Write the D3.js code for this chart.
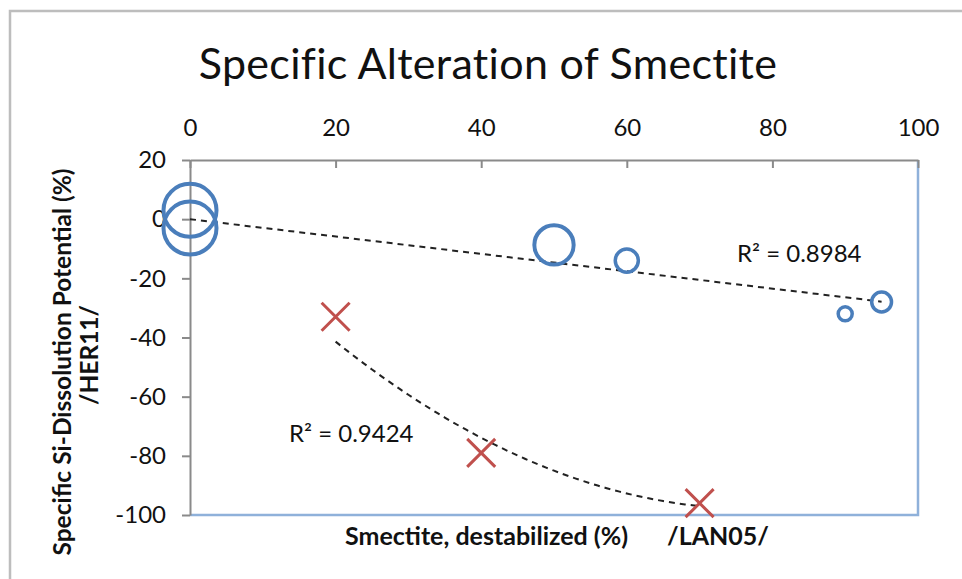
<!DOCTYPE html>
<html>
<head>
<meta charset="utf-8">
<script src="https://cdn.jsdelivr.net/npm/d3@7"></script>
<style>
	body { margin: 0; background: #fff; }
	text { font-family: Lato, "Open Sans", sans-serif; fill: #111; }
</style>
</head>
<body>
<script>
// values
let herX = 	[0, 0, 50, 60, 90, 95]
let herY = 	[3, -3, -8.7, -14, -32, -28]
let herSize = 	[100, 100, 55, 19, 7, 14]

let lanX = 	[20, 40, 70]
let lanY = 	[-33, -79, -96]

let xTicks = 	[0, 20, 40, 60, 80, 100]
let yTicks = 	[-100, -80, -60, -40, -20, 0, 20]

// second series trendline (2nd order), coefficients c0, c1, c2
let lanTrend = 	[4.78, -2.651, 0.0171]
let r2Labels = 	['R² = 0.8984', 'R² = 0.9424']

let W = 962, H = 579
let x0 = 190, x1 = 918
let y0 = 160, y1 = 515

let svg = d3.select('body').append('svg')
	.attr('width', W).attr('height', H)

// chart frame
svg.append('rect')
	.attr('x', 10).attr('y', 11)
	.attr('width', W).attr('height', H)
	.attr('fill', 'none').style('stroke', '#bdbdbd').attr('stroke-width', 2.5)

let x = d3.scaleLinear().domain([0, 100]).range([x0, x1])
let y = d3.scaleLinear().domain([-100, 20]).range([y1, y0])
let r = d3.scaleSqrt().domain([0, 100]).range([0, 26.5])

// plot area border (bottom, right)
svg.append('path')
	.attr('d', `M${x0},${y1}H${x1}V${y0}`)
	.attr('fill', 'none').style('stroke', '#8fb1da').attr('stroke-width', 2.5)

let fmt = d => String(d)
let xAxis = svg.append('g')
	.attr('transform', `translate(0,${y0})`)
	.call(d3.axisTop(x).tickValues(xTicks).tickFormat(fmt).tickSizeInner(-8).tickSizeOuter(0).tickPadding(26))
let yAxis = svg.append('g')
	.attr('transform', `translate(${x0},0)`)
	.call(d3.axisLeft(y).tickValues(yTicks).tickFormat(fmt).tickSizeInner(8).tickSizeOuter(0).tickPadding(16))

for (let ax of [xAxis, yAxis]) {
	ax.select('.domain').style('stroke', '#8a8a8a').attr('stroke-width', 2)
	ax.selectAll('.tick line').style('stroke', '#8a8a8a').attr('stroke-width', 2)
	ax.selectAll('.tick text').style('font-family', 'Lato').attr('font-size', 24).style('fill', '#111')
}
xAxis.selectAll('.tick text').attr('dy', '0.1em')

// trendline, first series: least squares through origin
let sxy = d3.sum(herX, (d, i) => d*herY[i])
let sxx = d3.sum(herX, d => d*d)
let slope = sxy/sxx
let dash = '6,5'
svg.append('line')
	.attr('x1', x(0)).attr('y1', y(0))
	.attr('x2', x(d3.max(herX))).attr('y2', y(slope*d3.max(herX)))
	.style('stroke', '#222').attr('stroke-width', 2).attr('stroke-dasharray', dash)

// trendline, second series
let polyX = d3.range(d3.min(lanX), d3.max(lanX) + 0.01, 1)
svg.append('path')
	.datum(polyX)
	.attr('d', d3.line().x(d => x(d)).y(d => y(lanTrend[0] + lanTrend[1]*d + lanTrend[2]*d*d)))
	.attr('fill', 'none').style('stroke', '#222').attr('stroke-width', 2).attr('stroke-dasharray', dash)

// bubbles
svg.selectAll('.bubble').data(herX).enter().append('circle')
	.attr('class', 'bubble')
	.attr('cx', d => x(d)).attr('cy', (d, i) => y(herY[i]))
	.attr('r', (d, i) => r(herSize[i]))
	.attr('fill', 'none').style('stroke', '#4a7ebb')
	.attr('stroke-width', (d, i) => herSize[i] > 40 ? 4 : 3.5)

// crosses
let s = 14
svg.selectAll('.cross').data(lanX).enter().append('path')
	.attr('class', 'cross')
	.attr('d', (d, i) => {
		let cx = x(d), cy = y(lanY[i])
		return `M${cx-s},${cy-s}L${cx+s},${cy+s}M${cx-s},${cy+s}L${cx+s},${cy-s}`
	})
	.style('stroke', '#c0504d').attr('stroke-width', 3)

// r squared labels
svg.append('text').attr('x', 737).attr('y', 262).attr('font-size', 24).text(r2Labels[0])
svg.append('text').attr('x', 289).attr('y', 442).attr('font-size', 24).text(r2Labels[1])

// titles
svg.append('text')
	.attr('x', 488).attr('y', 79).attr('text-anchor', 'middle')
	.attr('font-size', 43).style('letter-spacing', '0.3px')
	.text('Specific Alteration of Smectite')

svg.append('text')
	.attr('x', 345).attr('y', 545).attr('font-size', 25).attr('font-weight', 'bold')
	.text('Smectite, destabilized (%)')
svg.append('text')
	.attr('x', 667).attr('y', 545).attr('font-size', 25).attr('font-weight', 'bold')
	.text('/LAN05/')

let yt = svg.append('text')
	.attr('transform', 'translate(62,362) rotate(-90)')
	.attr('text-anchor', 'middle').attr('font-size', 24.5).attr('font-weight', 'bold')
yt.append('tspan').attr('x', 0).attr('dy', '0.35em').text('Specific Si-Dissolution Potential (%)')
yt.append('tspan').attr('x', 7).attr('dy', '1.1em').text('/HER11/')
</script>
</body>
</html>
